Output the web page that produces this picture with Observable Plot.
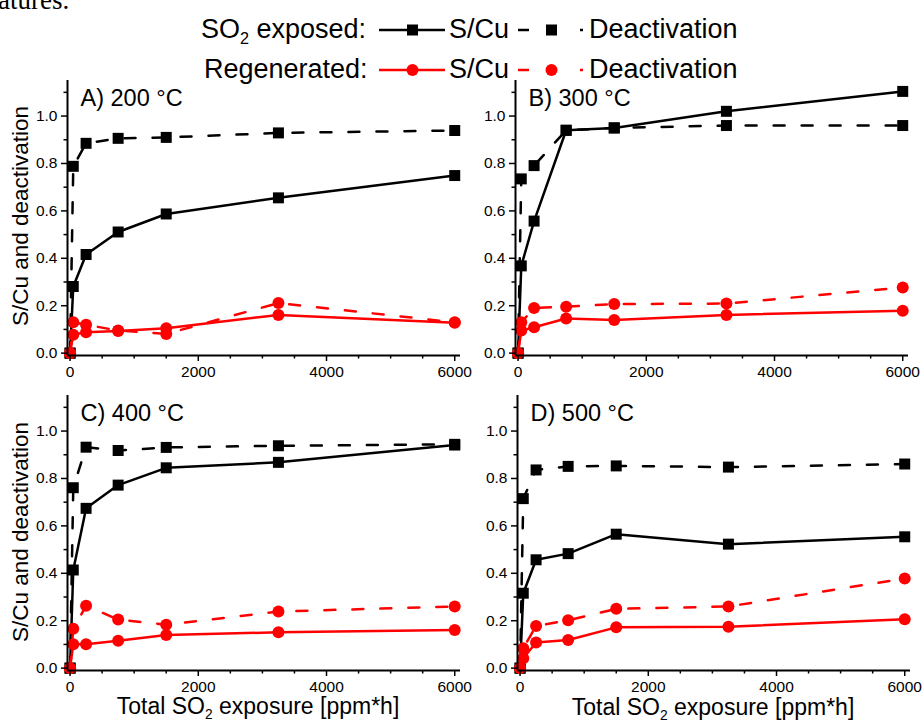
<!DOCTYPE html>
<html><head><meta charset="utf-8">
<script src="https://cdn.jsdelivr.net/npm/d3@7"></script>
<script src="https://cdn.jsdelivr.net/npm/@observablehq/plot@0.6"></script>
<style>
body{margin:0;background:#fff;}
#wrap{position:relative;width:924px;height:724px;overflow:hidden;font-family:"Liberation Sans",Arial,sans-serif;color:#000;}
.abs{position:absolute;white-space:nowrap;}
.leg{font-size:27px;line-height:1;}
.xl{font-size:23px;line-height:1;}
.yl{font-size:22.5px;transform:translate(-50%,-50%) rotate(-90deg);}
sub{font-size:0.6em;vertical-align:-0.35em;line-height:0;}
</style></head><body><div id="wrap"></div>
<script>
// ---- data ----
const exposure = [0, 50, 250, 750, 1500, 3250, 6000];
const panelTitles = ["A) 200 °C", "B) 300 °C", "C) 400 °C", "D) 500 °C"];
const exposedSCu = [
  [0, 0.281, 0.416, 0.511, 0.587, 0.655, 0.749],
  [0, 0.368, 0.557, 0.940, 0.950, 1.020, 1.104],
  [0, 0.414, 0.674, 0.772, 0.845, 0.868, 0.941],
  [0, 0.316, 0.457, 0.483, 0.565, 0.523, 0.554]
];
const exposedDeact = [
  [0, 0.788, 0.885, 0.906, 0.910, 0.929, 0.939],
  [0, 0.735, 0.791, 0.940, 0.950, 0.960, 0.960],
  [0, 0.761, 0.932, 0.918, 0.931, 0.938, 0.944],
  [0, 0.715, 0.836, 0.851, 0.853, 0.848, 0.861]
];
const regenSCu = [
  [0, 0.078, 0.088, 0.093, 0.105, 0.161, 0.128],
  [0, 0.095, 0.109, 0.146, 0.140, 0.161, 0.179],
  [0, 0.101, 0.101, 0.115, 0.140, 0.151, 0.161],
  [0, 0.042, 0.108, 0.119, 0.172, 0.175, 0.206]
];
const regenDeact = [
  [0, 0.130, 0.120, 0.095, 0.081, 0.211, 0.130],
  [0, 0.130, 0.190, 0.196, 0.207, 0.209, 0.277],
  [0, 0.166, 0.263, 0.205, 0.183, 0.239, 0.260],
  [0, 0.084, 0.178, 0.202, 0.250, 0.260, 0.378]
];
const xMajor = [0, 2000, 4000, 6000];
const xMinor = [500, 1000, 1500, 2500, 3000, 3500, 4500, 5000, 5500];
const yMajor = [0, 0.2, 0.4, 0.6, 0.8, 1.0];
const yMinor = [0.1, 0.3, 0.5, 0.7, 0.9, 1.1];

// ---- layout ----
const wrap = document.getElementById("wrap");
const W = 470, H = 310;
const xDomain = [-40, 6090], yDomain = [-0.01, 1.15];
const panelPos = [[0, 70], [448, 70], [0, 385], [450, 385]];

function makePanel(i) {
  const rows = vals => exposure.map((x, j) => ({x, y: vals[j]}));
  const specs = [
    [exposedDeact[i], "black", "11,17", "square", 6.2],
    [exposedSCu[i], "black", null, "square", 6.2],
    [regenDeact[i], "#ff0000", "11,17", "circle", 6],
    [regenSCu[i], "#ff0000", null, "circle", 6]
  ];
  const marks = [];
  for (const [vals, color, dash, sym, r] of specs) {
    const d = rows(vals);
    marks.push(Plot.line(d, {x: "x", y: "y", stroke: color, strokeWidth: 2.5, strokeDasharray: dash || undefined}));
    marks.push(Plot.dot(d, {x: "x", y: "y", fill: color, stroke: "none", symbol: sym, r}));
  }
  marks.push(
    Plot.axisX(xMajor, {tickSize: 6, tickPadding: 4, tickFormat: d => String(d), label: null, strokeWidth: 1.5}),
    Plot.axisX(xMinor, {tickSize: 3.5, tickFormat: () => "", label: null, strokeWidth: 1.5}),
    Plot.axisY(yMajor, {tickSize: 6, tickPadding: 4, tickFormat: d3.format(".1f"), label: null, strokeWidth: 1.5}),
    Plot.axisY(yMinor, {tickSize: 3.5, tickFormat: () => "", label: null, strokeWidth: 1.5}),
    Plot.ruleX([xDomain[0]], {strokeWidth: 2}),
    Plot.ruleY([yDomain[0]], {strokeWidth: 2}),
    Plot.text([panelTitles[i]], {frameAnchor: "top-left", dx: 13, dy: 9, fontSize: 23.5, textAnchor: "start", lineAnchor: "top"})
  );
  const svg = Plot.plot({
    width: W, height: H,
    marginLeft: 67, marginRight: 10, marginTop: 10, marginBottom: 25,
    x: {domain: xDomain},
    y: {domain: yDomain},
    style: {fontFamily: '"Liberation Sans", Arial, sans-serif', fontSize: "15.5px", color: "black", background: "transparent", overflow: "visible"},
    marks
  });
  svg.style.position = "absolute";
  svg.style.left = panelPos[i][0] + "px";
  svg.style.top = panelPos[i][1] + "px";
  wrap.appendChild(svg);
}
for (let i = 0; i < 4; i++) makePanel(i);

function addDiv(html, cls, left, top, extra) {
  const d = document.createElement("div");
  d.className = "abs " + cls;
  d.innerHTML = html;
  d.style.left = left + "px";
  d.style.top = top + "px";
  if (extra) Object.assign(d.style, extra);
  wrap.appendChild(d);
  return d;
}
// cropped text fragment from surrounding page
addDiv("atures.", "", -2, -15, {fontFamily: '"Liberation Serif", serif', fontSize: "27px"});

// y labels
addDiv("S/Cu and deactivation", "yl", 21, 216);
addDiv("S/Cu and deactivation", "yl", 21, 532);
// x labels
addDiv("Total SO<sub>2</sub> exposure [ppm*h]", "xl", 258, 695, {transform: "translateX(-50%)"});
addDiv("Total SO<sub>2</sub> exposure [ppm*h]", "xl", 713, 696, {transform: "translateX(-50%)"});

// legend
function legSym(left, top, color, solid, shape) {
  const ns = "http://www.w3.org/2000/svg";
  const s = document.createElementNS(ns, "svg");
  s.setAttribute("width", 66); s.setAttribute("height", 20);
  s.style.position = "absolute"; s.style.left = left + "px"; s.style.top = top + "px";
  const mk = (tag, attrs) => { const e = document.createElementNS(ns, tag); for (const k in attrs) e.setAttribute(k, attrs[k]); s.appendChild(e); };
  if (solid) mk("line", {x1: 0, x2: 66, y1: 10, y2: 10, stroke: color, "stroke-width": 2.5});
  else {
    mk("line", {x1: 0, x2: 11, y1: 10, y2: 10, stroke: color, "stroke-width": 2.5});
    mk("line", {x1: 62, x2: 65, y1: 10, y2: 10, stroke: color, "stroke-width": 2.5});
  }
  if (shape === "square") mk("rect", {x: 28, y: 4.5, width: 11, height: 11, fill: color});
  else mk("circle", {cx: 33.5, cy: 10, r: 6, fill: color});
  wrap.appendChild(s);
}
addDiv("SO<sub>2</sub> exposed:", "leg", 201, 16);
legSym(379, 20, "black", true, "square");
addDiv("S/Cu", "leg", 449, 16);
legSym(518, 20, "black", false, "square");
addDiv("Deactivation", "leg", 589, 16);
addDiv("Regenerated:", "leg", 204, 56);
legSym(379, 60, "#ff0000", true, "circle");
addDiv("S/Cu", "leg", 449, 56);
legSym(518, 60, "#ff0000", false, "circle");
addDiv("Deactivation", "leg", 589, 56);
</script></body></html>
